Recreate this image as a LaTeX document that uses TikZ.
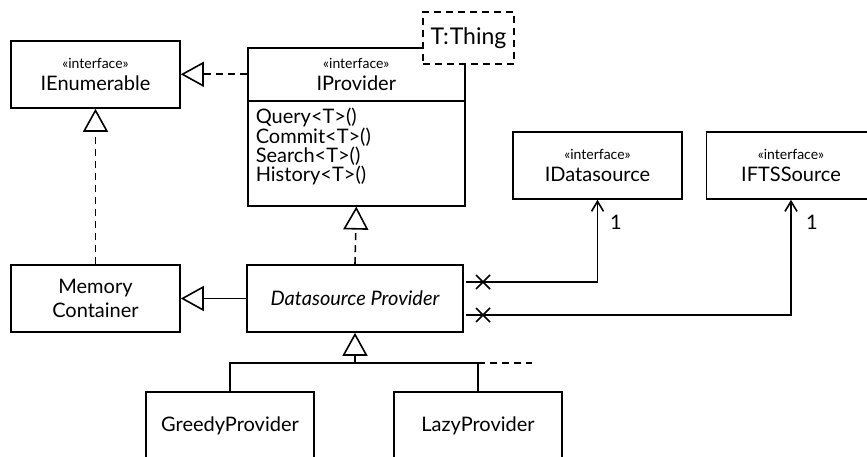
\documentclass[tikz,border=0pt]{standalone}
\usepackage{fontspec}
\setmainfont{Lato}
\usetikzlibrary{arrows.meta}
\newcommand{\stereofont}{\fontsize{14}{15}\selectfont}
\newcommand{\namefont}{\fontsize{20}{24}\selectfont}
\newcommand{\methfont}{\fontsize{20}{19.3}\selectfont}
\newcommand{\thingfont}{\fontsize{23}{26}\selectfont}
\begin{document}
\begin{tikzpicture}[x=1pt,y=-1pt,line width=1.6pt,
  umlbox/.style={draw, fill=white, line width=1.6pt, minimum width=169pt, minimum height=67pt, inner sep=0pt, align=center, font=\namefont},
  ifacebox/.style={umlbox, font=\fontsize{20}{22}\selectfont},
  realize/.style={dash pattern=on 7pt off 5pt, -{Triangle[open, length=23pt, width=25pt]}},
  inherit/.style={-{Triangle[open, length=23pt, width=25pt]}},
  assoc/.style={-{Straight Barb[length=10pt, width=12pt]}},
  xmark/.style={line width=1.6pt},
  lbl/.style={font=\namefont, inner sep=0pt}]
\useasboundingbox (0,0) rectangle (867,457);
\clip (0,0) rectangle (867,457);

% interface boxes
\node[ifacebox] (ienum) at (95.5,74.5) {{\stereofont «interface»}\\IEnumerable};
\node[ifacebox] (ids) at (597.5,165.5) {{\stereofont «interface»}\\IDatasource};
\node[ifacebox] (ifts) at (791,165.5) {{\stereofont «interface»}\\IFTSSource};

% IProvider
\node[ifacebox, minimum width=217pt, minimum height=53pt, anchor=north west] (iph) at (247,47) {{\stereofont «interface»}\\IProvider};
\node[draw, line width=1.6pt, minimum width=217pt, minimum height=105pt, anchor=north west, inner sep=0pt] (ipb) at (247,100) {};
\node[anchor=west, inner xsep=8pt, inner ysep=0pt, align=left, font=\methfont] (ipbt) at ([yshift=6.5pt]ipb.west) {Query<T>()\\Commit<T>()\\Search<T>()\\History<T>()};
\node[draw, fill=white, dash pattern=on 7pt off 5pt, line width=1.6pt, minimum width=91pt, minimum height=52pt, inner sep=0pt, font=\thingfont] (thing) at (468.5,38) {T:\kern1pt Thing};

% classes
\node[umlbox] (mem) at (95.5,298.5) {Memory\\Container};
\node[umlbox, minimum width=216pt, font=\namefont\itshape] (dsp) at (355,298.5) {Datasource Provider};
\node[umlbox, minimum width=168pt] (greedy) at (230,425.5) {GreedyProvider};
\node[umlbox, minimum width=168pt] (lazy) at (478,425.5) {LazyProvider};

% realizations
\draw[realize] (iph.west) -- (iph.west -| ienum.east);
\draw[realize] (mem.north) -- (ienum.south);
\draw[realize] (dsp.north) -- (ipb.south);

% generalization
\draw[inherit] (dsp.west) -- (mem.east);
\coordinate (bar) at (355,363);
\coordinate (barend) at (532,363);
\draw[inherit] (bar) -- (dsp.south);
\draw (greedy.north) |- (bar) -| (lazy.north);
\draw[dash pattern=on 7pt off 5pt] (bar -| lazy.north) -- (barend);

% associations
\coordinate (a1) at (466,282);
\coordinate (a2) at (466,315);
\draw[assoc] (a1) -| (ids.south);
\draw[assoc] (a2) -| (ifts.south);
\draw[xmark] (483,282) +(-7,-7) -- +(7,7) +(-7,7) -- +(7,-7);
\draw[xmark] (483,315) +(-7,-7) -- +(7,7) +(-7,7) -- +(7,-7);
\node[lbl] (m1) at (616,222) {1};
\node[lbl] (m2) at (812,222) {1};
\end{tikzpicture}
\end{document}
